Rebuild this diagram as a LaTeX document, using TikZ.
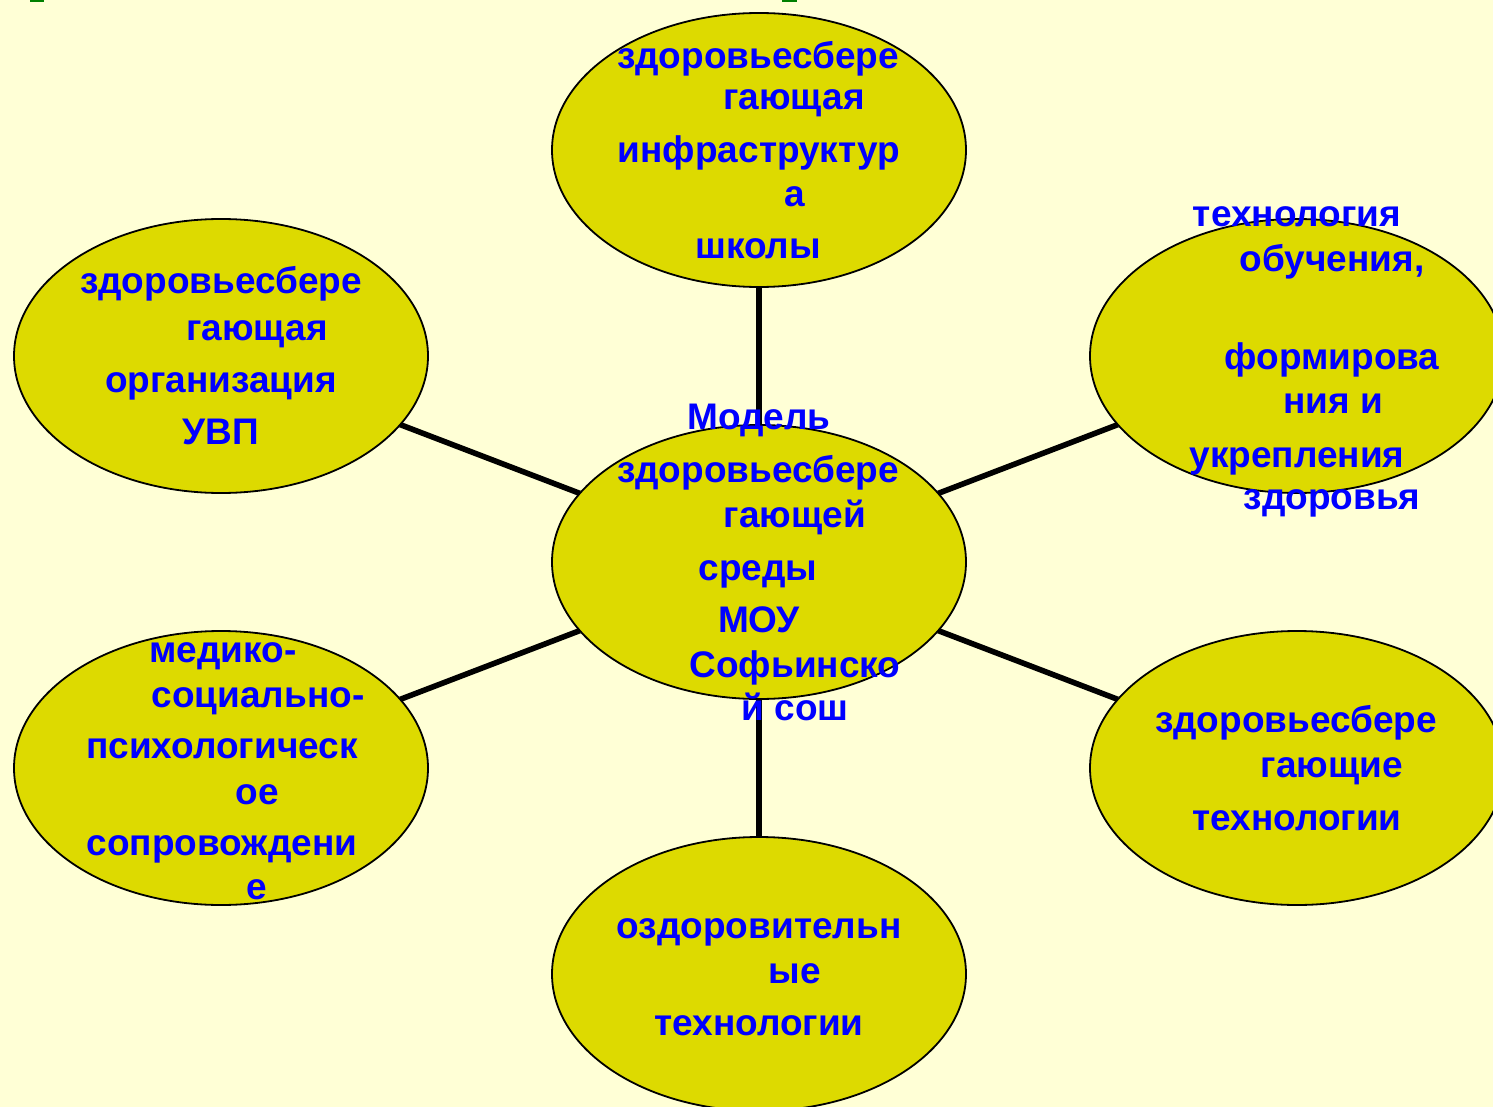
\documentclass[tikz,border=0pt]{standalone}
\usepackage{fontspec}
\setmainfont{Liberation Sans}
\usetikzlibrary{shapes.geometric}
\definecolor{bgcol}{RGB}{255,255,214}
\definecolor{ellfill}{RGB}{221,218,0}
\definecolor{txtblue}{RGB}{0,0,255}
\definecolor{markgreen}{RGB}{0,128,0}
\tikzset{
  bubble/.style={ellipse, draw=black, line width=1.8pt, fill=ellfill, minimum width=414pt, minimum height=274pt, inner sep=0pt, outer sep=0pt},
  link/.style={draw=black, line width=5.6pt},
  txt/.style={font=\fontsize{37}{40}\selectfont\bfseries, text=txtblue, anchor=base, inner sep=0pt}
}
\begin{document}
\begin{tikzpicture}[x=1pt,y=-1pt]
\clip (0,0) rectangle (1493,1107);
\fill[bgcol] (0,0) rectangle (1493,1107);
\fill[markgreen] (30,0) rectangle (44,2.5);
\fill[markgreen] (782,0) rectangle (797,2.5);
% ellipses
\node[bubble] (model) at (759,562) {};
\node[bubble] (infra) at (759,150) {};
\node[bubble] (org) at (221,356) {};
\node[bubble] (med) at (221,768) {};
\node[bubble] (tech) at (1297,356) {};
\node[bubble] (hst) at (1297,768) {};
\node[bubble] (ozd) at (759,974) {};
% connectors
\draw[link] (model) -- (infra);
\draw[link] (model) -- (org);
\draw[link] (model) -- (med);
\draw[link] (model) -- (tech);
\draw[link] (model) -- (hst);
\draw[link] (model) -- (ozd);
% top
\node[txt] (a1) at (758,69) {здоровьесбере};
\node[txt] (a2) at (794,110) {гающая};
\node[txt] (a3) at (759,163) {инфраструктур};
\node[txt] (a4) at (795,207) {а};
\node[txt] (a5) at (758,259) {школы};
% left top
\node[txt] (b1) at (221,294) {здоровьесбере};
\node[txt] (b2) at (257,340) {гающая};
\node[txt] (b3) at (221,392) {организация};
\node[txt] (b4) at (221,444) {УВП};
% left bottom
\node[txt] (c1) at (223,662) {медико-};
\node[txt] (c2) at (258,707) {социально-};
\node[txt] (c3) at (222,758) {психологическ};
\node[txt] (c4) at (257,804) {ое};
\node[txt] (c5) at (222,855) {сопровождени};
\node[txt] (c6) at (257,899) {е};
% center
\node[txt] (d1) at (759,429) {Модель};
\node[txt] (d2) at (758,482) {здоровьесбере};
\node[txt] (d3) at (795,527) {гающей};
\node[txt] (d4) at (758,580) {среды};
\node[txt] (d5) at (759,632) {МОУ};
\node[txt] (d6) at (795,677) {Софьинско};
\node[txt] (d7) at (795,720) {й сош};
% right top
\node[txt] (e1) at (1297,227) {технология};
\node[txt] (e2) at (1332,272) {обучения,};
\node[txt] (e3) at (1332,369) {формирова};
\node[txt] (e4) at (1333,413) {ния и};
\node[txt] (e5) at (1297,467) {укрепления};
\node[txt] (e6) at (1332,509) {здоровья};
% right bottom
\node[txt] (f1) at (1296,732) {здоровьесбере};
\node[txt] (f2) at (1332,777) {гающие};
\node[txt] (f3) at (1297,830) {технологии};
% bottom
\node[txt] (g1) at (759,938) {оздоровительн};
\node[txt] (g2) at (795,983) {ые};
\node[txt] (g3) at (759,1035) {технологии};
\end{tikzpicture}
\end{document}
